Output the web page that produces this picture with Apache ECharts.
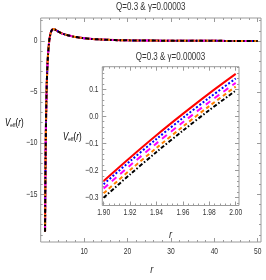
<!DOCTYPE html>
<html><head><meta charset="utf-8">
<script src="https://cdn.jsdelivr.net/npm/echarts@6/dist/echarts.min.js"></script>
<style>html,body{margin:0;padding:0;background:#fff}#c{width:266px;height:280px}</style>
</head><body><div id="c"></div>
<script>
// ---------- data ----------
const titleText = 'Q=0.3 & γ=0.00003';
const mainR = [1.0,1.05,1.1,1.2,1.3,1.4,1.5,1.6,1.7,1.8,1.9,2.0,2.2,2.4,2.6,2.8,3.0,3.3,3.7,4.2,5,6,7,8,10,12,14,17,20,25,30,35,40,45,50];
const mainV = [-18.7,-15.3,-12.4,-8.6,-6.0,-4.2,-2.9,-1.95,-1.25,-0.70,-0.25,0.15,0.62,0.92,1.08,1.15,1.16,1.12,1.02,0.88,0.72,0.59,0.48,0.39,0.27,0.19,0.14,0.09,0.06,0.04,0.025,0.015,0.01,0.007,0.005];
const insetR = [1.90,1.92,1.94,1.96,1.98,2.00];
const vRed     = [-0.239,-0.153,-0.070,0.009,0.085,0.157];
const vBlue    = [-0.251,-0.166,-0.084,-0.006,0.069,0.140];
const vMagenta = [-0.267,-0.182,-0.100,-0.022,0.053,0.124];
const vOrange  = [-0.285,-0.199,-0.117,-0.038,0.038,0.110];
const vBlack   = [-0.301,-0.215,-0.132,-0.053,0.023,0.095];
const mainXTicks = [10,20,30,40,50];
const mainYTicks = [0,-5,-10,-15];
const insetXTicks = [1.90,1.92,1.94,1.96,1.98,2.00];
const insetYTicks = [0.1,0.0,-0.1,-0.2,-0.3];

// ---------- style ----------
const FONT = '"Liberation Sans",Arial,sans-serif';
const frameColor = '#9a9a9a';
const textColor = '#333';
const SX = 0.74;   // condensed look of the reference lettering
const styles = [
  {color:'#ff0000', type:'solid'},
  {color:'#0000ff', type:[2,2]},
  {color:'#ff00ff', type:[6,5]},
  {color:'#ff8000', type:[4,3]},
  {color:'#000000', type:[4,2,1.5,2]}
];
const insetSets = [vRed, vBlue, vMagenta, vOrange, vBlack];

const MX = [0.0, 50.75], MY = [-19.7, 2.25];
const IX = [1.899, 2.0025], IY = [-0.330, 0.1837];

function minors(min, max, step, majors) {
  const out = [];
  for (let k = Math.ceil(min / step - 1e-9); k * step <= max + 1e-9; k++) {
    const v = +(k * step).toFixed(6);
    if (!majors.some(m => Math.abs(m - v) < step / 10)) out.push(v);
  }
  return out;
}
const minus = s => s.replace('-', '\u2212');

const xAxes = [], yAxes = [];
function mkAxis(grid, pos, ext, vals, len) {
  return {type:'value', gridIndex:grid, position:pos, min:ext[0], max:ext[1],
    splitLine:{show:false}, axisLine:{show:false, onZero:false},
    axisTick:{show:true, inside:true, length:len, customValues:vals, lineStyle:{color:frameColor, width:1}},
    axisLabel:{show:false}
  };
}
const addX = (...a) => xAxes.push(mkAxis(...a));
const addY = (...a) => yAxes.push(mkAxis(...a));
// main grid 0
const mxMinor = minors(MX[0], MX[1], 2, mainXTicks.concat([0]));
const myMinor = minors(MY[0], MY[1], 1, mainYTicks);
addX(0,'bottom',MX,mainXTicks,4);   // xAxis 0
addX(0,'bottom',MX,mxMinor,2);
addX(0,'top',MX,mainXTicks,4);
addX(0,'top',MX,mxMinor,2);
addY(0,'left',MY,mainYTicks,4);     // yAxis 0
addY(0,'left',MY,myMinor,2);
addY(0,'right',MY,mainYTicks,4);
addY(0,'right',MY,myMinor,2);
// inset grid 1
const ixMinor = minors(IX[0], IX[1], 0.004, insetXTicks);
const iyMinor = minors(IY[0], IY[1], 0.02, insetYTicks);
addX(1,'bottom',IX,insetXTicks,4);  // xAxis 4
addX(1,'bottom',IX,ixMinor,2);
addX(1,'top',IX,insetXTicks,4);
addX(1,'top',IX,ixMinor,2);
addY(1,'left',IY,insetYTicks,4);    // yAxis 4
addY(1,'left',IY,iyMinor,2);
addY(1,'right',IY,insetYTicks,4);
addY(1,'right',IY,iyMinor,2);

const series = [];
styles.forEach((s) => {
  series.push({type:'line', xAxisIndex:0, yAxisIndex:0, data: mainR.map((r,i)=>[r, mainV[i]]),
    showSymbol:false, smooth:0.35, lineStyle:{color:s.color, width:2, type:s.type}, silent:true, animation:false, clip:true});
});
styles.forEach((s, k) => {
  series.push({type:'line', xAxisIndex:4, yAxisIndex:4, data: insetR.map((r,i)=>[r, insetSets[k][i]]),
    showSymbol:false, smooth:0.3, lineStyle:{color:s.color, width:2, type:s.type}, silent:true, animation:false, clip:true});
});

const chart = echarts.init(document.getElementById('c'), null, {renderer:'canvas'});
const grids = [
  {left:40.7, right:5, top:18, bottom:38, show:true, borderColor:frameColor, borderWidth:1, backgroundColor:'transparent', containLabel:false},
  {left:102.3, right:27, top:66.7, bottom:74.5, show:true, borderColor:frameColor, borderWidth:1, backgroundColor:'#fff', containLabel:false}
];
chart.setOption({animation:false, backgroundColor:'#fff', grid:grids, xAxis:xAxes, yAxis:yAxes, series:series});

// ---------- text (tick labels placed through the axes' own scales) ----------
const g = [];
function txt(x, y, text, opt, sx) {
  g.push({type:'text', x:x, y:y, scaleX:sx || SX, z:100,
    style:Object.assign({text:text, fontFamily:FONT, fontSize:9, fill:textColor, align:'center', verticalAlign:'middle'}, opt||{})});
}
mainXTicks.forEach(v => txt(chart.convertToPixel({xAxisIndex:0}, v), 251.5, String(v)));
mainYTicks.forEach(v => txt(37.5, chart.convertToPixel({yAxisIndex:0}, v), minus(String(v)), {align:'right'}));
insetXTicks.forEach(v => txt(chart.convertToPixel({xAxisIndex:4}, v), 213, v.toFixed(2)));
insetYTicks.forEach(v => txt(98.5, chart.convertToPixel({yAxisIndex:4}, v), minus(v.toFixed(1)), {align:'right'}));

// titles
txt(150.8, 7.5, titleText, {fontSize:10}, 0.8);
txt(170.5, 57, titleText, {fontSize:10}, 0.8);
// axis names
txt(151.7, 270, 'r', {fontStyle:'italic', fontSize:11}, 0.85);
txt(170.5, 235, 'r', {fontStyle:'italic', fontSize:11}, 0.85);
function vName(x, y) {
  g.push({type:'text', x:x, y:y, scaleX:0.8, z:100, style:{
    text:'{v|V}{s|eff}{p|(}{r|r}{p|)}', align:'left', verticalAlign:'middle',
    rich:{v:{fontFamily:FONT, fontStyle:'italic', fontSize:10, color:textColor},
          s:{fontFamily:FONT, fontSize:6, color:textColor, verticalAlign:'bottom', padding:[5,0,0,0]},
          p:{fontFamily:FONT, fontSize:10, color:textColor},
          r:{fontFamily:FONT, fontStyle:'italic', fontSize:10, color:textColor}}}});
}
vName(5, 123);
vName(63, 137);
chart.setOption({graphic:g});
</script></body></html>
